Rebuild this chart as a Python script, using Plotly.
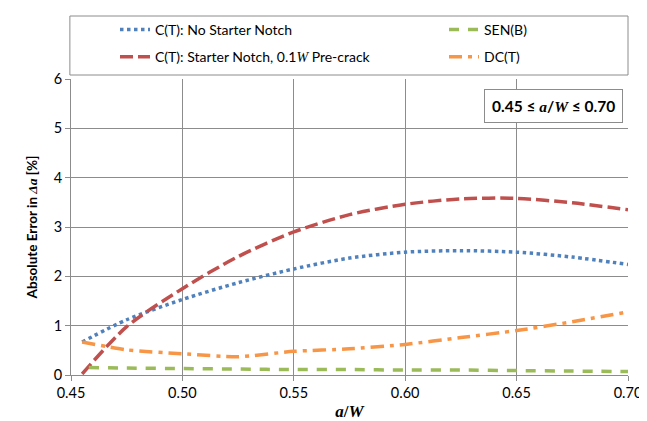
import plotly.graph_objects as go

a_over_w = [0.455, 0.475, 0.50, 0.525, 0.55, 0.575, 0.60, 0.625, 0.65, 0.675, 0.70]
ct_no_notch = [0.67, 1.12, 1.53, 1.87, 2.15, 2.37, 2.49, 2.52, 2.49, 2.39, 2.24]
ct_notch = [0.02, 0.98, 1.75, 2.40, 2.90, 3.25, 3.46, 3.57, 3.58, 3.49, 3.35]
dc_t = [0.67, 0.51, 0.43, 0.37, 0.48, 0.53, 0.62, 0.76, 0.90, 1.08, 1.28]
sen_b_a_over_w = [0.458, 0.475, 0.50, 0.525, 0.55, 0.575, 0.60, 0.625, 0.65, 0.675, 0.70]
sen_b = [0.15, 0.14, 0.13, 0.12, 0.11, 0.11, 0.10, 0.10, 0.09, 0.08, 0.07]

x_ticks = [0.45, 0.50, 0.55, 0.60, 0.65, 0.70]
x_tick_labels = ["0.45", "0.50", "0.55", "0.60", "0.65", "0.70"]
y_ticks = [0, 1, 2, 3, 4, 5, 6]

SERIF = "Liberation Serif"
FONT = "Lato"
GRID = "#8c8c8c"

fig = go.Figure()
fig.add_trace(go.Scatter(x=a_over_w, y=ct_no_notch, mode="lines", name="C(T): No Starter Notch",
                         legend="legend", legendgroup="a",
                         line=dict(color="#4F81BD", width=3.5, dash="dot", shape="spline", smoothing=0.8)))
fig.add_trace(go.Scatter(x=a_over_w, y=ct_notch, mode="lines",
                         name="C(T): Starter Notch, 0.1<i><span style=\"font-family:Liberation Serif\">W</span></i> Pre-crack",
                         legend="legend", legendgroup="b",
                         line=dict(color="#C0504D", width=3.5, dash="13px,5px", shape="spline", smoothing=0.8)))
fig.add_trace(go.Scatter(x=sen_b_a_over_w, y=sen_b, mode="lines", name="SEN(B)",
                         legend="legend2", legendgroup="c",
                         line=dict(color="#9BBB59", width=3.5, dash="10px,9px", shape="spline", smoothing=0.8)))
fig.add_trace(go.Scatter(x=a_over_w, y=dc_t, mode="lines", name="DC(T)",
                         legend="legend2", legendgroup="d",
                         line=dict(color="#F79646", width=3.5, dash="13px,6px,4px,6px", shape="spline", smoothing=0.6)))

legend_common = dict(orientation="v", yanchor="top", y=(375 - 14) / 296, xanchor="left",
                     font=dict(family=FONT, size=14), bgcolor="rgba(0,0,0,0)",
                     tracegroupgap=6, traceorder="grouped")

fig.update_layout(
    width=639, height=413,
    margin=dict(l=63, r=19, t=71, b=46, autoexpand=False),
    paper_bgcolor="white", plot_bgcolor="white",
    font=dict(family=FONT, size=14, color="black"),
    showlegend=True,
    legend=dict(x=(157 - 42 - 71) / 557, **legend_common),
    legend2=dict(x=(486 - 42 - 71) / 557, **legend_common),
    xaxis=dict(range=[0.45, 0.70], tickvals=x_ticks, ticktext=x_tick_labels,
               showgrid=True, gridcolor=GRID, gridwidth=1,
               showline=True, linecolor=GRID, linewidth=1,
               ticks="outside", ticklen=5, tickcolor=GRID, zeroline=False,
               tickfont=dict(family=FONT, size=14.5),
               title=dict(text="<b><i>a</i>/<i>W</i></b>", font=dict(family=SERIF, size=17), standoff=4)),
    yaxis=dict(range=[0, 6], tickvals=y_ticks,
               showgrid=True, gridcolor=GRID, gridwidth=1,
               showline=True, linecolor=GRID, linewidth=1,
               ticks="outside", ticklen=5, tickcolor=GRID, zeroline=False,
               tickfont=dict(family=FONT, size=14.5),
               title=dict(text="<b>Absolute Error in <i><span style=\"font-family:Liberation Serif\">Δa</span></i> [%]</b>",
                          font=dict(family=FONT, size=13.5), standoff=12)),
    shapes=[dict(type="rect", xref="paper", yref="paper", x0=-0.002, x1=1.0, y0=1.0 + 4 / 296, y1=1.0 + 63 / 296,
                 line=dict(color=GRID, width=1), fillcolor="rgba(0,0,0,0)", layer="above")],
    annotations=[dict(xref="paper", yref="paper", x=0.991, y=0.965, xanchor="right", yanchor="top",
                      text="<b>0.45 ≤ <i><span style=\"font-family:Liberation Serif\">a</span></i>/<i><span style=\"font-family:Liberation Serif\">W</span></i> ≤ 0.70</b>",
                      showarrow=False, font=dict(family=FONT, size=15.5), bgcolor="white",
                      bordercolor=GRID, borderwidth=1, borderpad=7)],
)

fig.write_html("out.html")
